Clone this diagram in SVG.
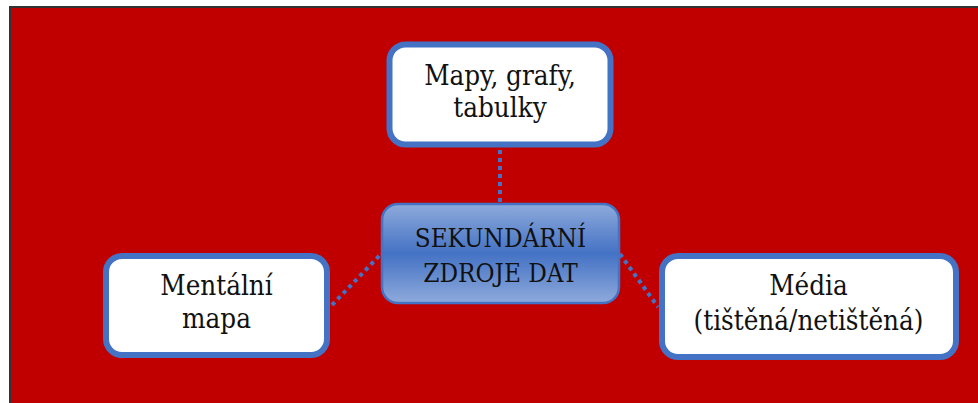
<svg xmlns="http://www.w3.org/2000/svg" width="978" height="403" viewBox="0 0 978 403">
<defs>
<linearGradient id="cg" x1="0" y1="0" x2="0" y2="1">
<stop offset="0" stop-color="#8EAADB"/>
<stop offset="0.5" stop-color="#4472C4"/>
<stop offset="1" stop-color="#8EAADB"/>
</linearGradient>
</defs>
<style>
.box{fill:#ffffff;stroke:#4472C4;stroke-width:6}
.t{font-family:"DejaVu Serif Condensed","DejaVu Serif",serif;font-stretch:condensed;font-size:27.5px;fill:#111;text-anchor:middle}
.tc{font-family:"DejaVu Serif Condensed","DejaVu Serif",serif;font-stretch:condensed;font-size:25.8px;fill:#111;text-anchor:middle}
.con{stroke:#4472C4;stroke-width:4;stroke-dasharray:4 4;fill:none}
</style>
<rect x="0" y="0" width="978" height="403" fill="#ffffff"/>
<rect x="10" y="7" width="975" height="405" fill="#C00000" stroke="#333333" stroke-width="2"/>
<g id="connectors">
<line class="con" x1="500" y1="150" x2="500" y2="203"/>
<line class="con" x1="332" y1="305" x2="381" y2="254"/>
<line class="con" x1="620" y1="254" x2="658" y2="307"/>
</g>
<g id="node-top">
<rect class="box" x="389.5" y="44.5" width="221" height="100" rx="16"/>
<text class="t" x="500" y="85">Mapy, grafy,</text>
<text class="t" x="500" y="117">tabulky</text>
</g>
<g id="node-center">
<rect x="382" y="204" width="237" height="99" rx="16" fill="url(#cg)" stroke="#4472C4" stroke-width="2.5"/>
<text class="tc" x="500.5" y="247">SEKUNDÁRNÍ</text>
<text class="tc" x="500.5" y="282">ZDROJE DAT</text>
</g>
<g id="node-left">
<rect class="box" x="106" y="256" width="221" height="99" rx="16"/>
<text class="t" x="216.5" y="295">Mentální</text>
<text class="t" x="216.5" y="328">mapa</text>
</g>
<g id="node-right">
<rect class="box" x="662" y="256" width="294" height="101" rx="16"/>
<text class="t" x="808.5" y="295">Média</text>
<text class="t" x="808.5" y="330">(tištěná/netištěná)</text>
</g>
</svg>
